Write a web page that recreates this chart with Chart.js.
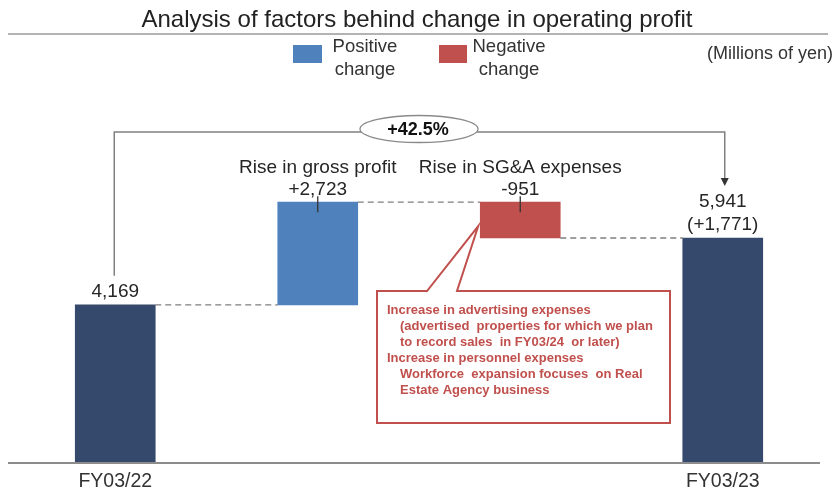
<!DOCTYPE html>
<html>
<head>
<meta charset="utf-8">
<script src="https://cdn.jsdelivr.net/npm/chart.js@4.4.0/dist/chart.umd.min.js"></script>
<style>
  body { margin: 0; background: #ffffff; }
  #wrap { width: 837px; height: 492px; }
</style>
</head>
<body>
<div id="wrap"><canvas id="grafico" width="837" height="492"></canvas></div>
<script>
// Data -----------------------------------------------------------------------
const categorias = ['FY03/22', 'Rise in gross profit', 'Rise in SG&A expenses', 'FY03/23'];
const lucroInicial = 4169;      // FY03/22 operating profit
const variacoes = [2723, -951]; // gross profit, SG&A
const lucroFinal = 5941;        // FY03/23 operating profit
const rotulos = ['4,169', '+2,723', '-951', '5,941'];
const rotuloExtra = '(+1,771)';
const percentual = '+42.5%';
const notas = [
  ['Increase in advertising expenses', 0],
  ['(advertised  properties for which we plan', 1],
  ['to record sales  in FY03/24  or later)', 1],
  ['Increase in personnel expenses', 0],
  ['Workforce  expansion focuses  on Real', 1],
  ['Estate Agency business', 1]
];

const NAVY = '#34496b';
const AZUL = '#4f81bd';
const VERMELHO = '#c0504d';
const FONTE = '"Liberation Sans", Arial, sans-serif';

// floating ranges for the waterfall
const meio = lucroInicial + variacoes[0];
const faixas = [
  [0, lucroInicial],
  [lucroInicial, meio],
  [meio + variacoes[1], meio],
  [0, lucroFinal]
];
const cores = [NAVY, AZUL, VERMELHO, NAVY];

// Drawing plugin ---------------------------------------------------------------
const extras = {
  id: 'extras',
  afterDraw(chart) {
    const c = chart.ctx;
    const x = chart.scales.x;
    const y = chart.scales.y;
    const cx = i => x.getPixelForValue(i);
    const topo = i => y.getPixelForValue(Math.max(faixas[i][0], faixas[i][1]));
    const base = i => y.getPixelForValue(Math.min(faixas[i][0], faixas[i][1]));
    const meia = 40;
    c.save();

    // title + rule
    c.fillStyle = '#222';
    c.font = '24px ' + FONTE;
    c.textAlign = 'center';
    c.textBaseline = 'middle';
    c.fillText('Analysis of factors behind change in operating profit', 417, 20);
    c.strokeStyle = '#9a9a9a';
    c.lineWidth = 1.5;
    c.beginPath(); c.moveTo(8, 34); c.lineTo(828, 34); c.stroke();

    // legend
    c.fillStyle = AZUL; c.fillRect(293, 45, 29, 18);
    c.fillStyle = VERMELHO; c.fillRect(439, 45, 28, 18);
    c.fillStyle = '#333';
    c.font = '18.5px ' + FONTE;
    c.textAlign = 'center';
    c.fillText('Positive', 365, 47);
    c.fillText('change', 365, 70);
    c.fillText('Negative', 509, 47);
    c.fillText('change', 509, 70);
    c.font = '18px ' + FONTE;
    c.textAlign = 'right';
    c.fillText('(Millions of yen)', 833, 54);

    // baseline
    c.strokeStyle = '#8c8c8c';
    c.lineWidth = 2;
    c.beginPath(); c.moveTo(8, y.getPixelForValue(0) + 1); c.lineTo(820, y.getPixelForValue(0) + 1); c.stroke();

    // dashed connectors
    c.strokeStyle = '#7f7f7f';
    c.lineWidth = 1.3;
    c.setLineDash([6, 4]);
    const liga = [[0, 1, lucroInicial], [1, 2, meio], [2, 3, lucroFinal]];
    liga.forEach(([a, b, v]) => {
      const py = y.getPixelForValue(v);
      c.beginPath(); c.moveTo(cx(a) + meia, py); c.lineTo(cx(b) - meia, py); c.stroke();
    });
    c.setLineDash([]);

    // small ticks on change bars
    c.strokeStyle = '#333';
    c.lineWidth = 1.3;
    [1, 2].forEach(i => {
      c.beginPath(); c.moveTo(cx(i), topo(i) - 6); c.lineTo(cx(i), topo(i) + 10); c.stroke();
    });

    // value labels
    c.fillStyle = '#262626';
    c.font = '19px ' + FONTE;
    c.textAlign = 'center';
    c.fillText(rotulos[0], cx(0), topo(0) - 13);
    c.fillText(categorias[1], cx(1), 168);
    c.fillText(rotulos[1], cx(1), 190);
    c.fillText(categorias[2], cx(2), 168);
    c.fillText(rotulos[2], cx(2), 190);
    c.fillText(rotulos[3], cx(3), topo(3) - 36);
    c.fillText(rotuloExtra, cx(3), topo(3) - 13);

    // x labels
    c.font = '19.5px ' + FONTE;
    c.fillStyle = '#333';
    [0, 3].forEach(i => c.fillText(categorias[i], cx(i), 482));

    // bracket with arrow
    const yb = 132;
    c.strokeStyle = '#808080';
    c.lineWidth = 1.5;
    c.beginPath();
    c.moveTo(cx(0) - 1, topo(0) - 29);
    c.lineTo(cx(0) - 1, yb);
    c.lineTo(cx(3) + 2, yb);
    c.lineTo(cx(3) + 2, 179);
    c.stroke();
    c.fillStyle = '#333';
    c.beginPath();
    c.moveTo(cx(3) - 2, 178); c.lineTo(cx(3) + 6, 178); c.lineTo(cx(3) + 2, 186);
    c.closePath(); c.fill();

    // ellipse
    c.beginPath();
    c.ellipse(419, 129, 59, 13.5, 0, 0, Math.PI * 2);
    c.fillStyle = '#fff'; c.fill();
    c.strokeStyle = '#8a8a8a'; c.lineWidth = 1.3; c.stroke();
    c.fillStyle = '#111';
    c.font = 'bold 18px ' + FONTE;
    c.fillText(percentual, 418, 130);

    // callout
    const pontaX = cx(2) - meia - 2;
    const pontaY = base(2) - 12;
    c.beginPath();
    c.moveTo(377, 291);
    c.lineTo(427, 291);
    c.lineTo(pontaX, pontaY);
    c.lineTo(457, 291);
    c.lineTo(670, 291);
    c.lineTo(670, 423);
    c.lineTo(377, 423);
    c.closePath();
    c.fillStyle = '#fff'; c.fill();
    c.strokeStyle = VERMELHO; c.lineWidth = 2; c.stroke();
    c.fillStyle = VERMELHO;
    c.font = 'bold 13px ' + FONTE;
    c.textAlign = 'left';
    notas.forEach(([txt, rec], k) => {
      c.fillText(txt, rec ? 400 : 387, 310 + k * 16);
    });

    c.restore();
  }
};

// Chart -------------------------------------------------------------------
const ctx = document.getElementById('grafico').getContext('2d');
const grafico = new Chart(ctx, {
  type: 'bar',
  data: {
    labels: categorias,
    datasets: [{
      data: faixas,
      backgroundColor: cores,
      borderWidth: 0,
      barThickness: 80
    }]
  },
  options: {
    responsive: false,
    animation: false,
    layout: { padding: { left: 14, right: 13, top: 85, bottom: 30 } },
    scales: {
      x: { display: false },
      y: { display: false, min: 0, max: 10000 }
    },
    plugins: {
      legend: { display: false },
      tooltip: { enabled: false }
    }
  },
  plugins: [extras]
});
</script>
</body>
</html>
